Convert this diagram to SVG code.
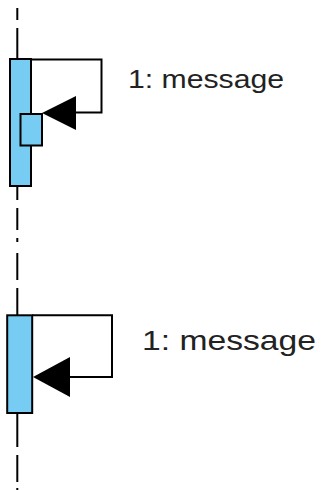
<svg xmlns="http://www.w3.org/2000/svg" width="321" height="490" viewBox="0 0 321 490">
<style>
.life{stroke:#000;stroke-width:2;fill:none}
.act{fill:#77CCF4;stroke:#000;stroke-width:2}
.msg{fill:none;stroke:#000;stroke-width:2}
.head{fill:#000;stroke:none}
.lbl{font-family:"Liberation Sans",Arial,sans-serif;fill:#222}
</style>
<g id="lifeline">
<path class="life" d="M17.3,8V20M17.3,28V50M17.3,50V59M17.3,186V200M17.3,208V230M17.3,238V242M17.3,253V280M17.3,288V315M17.3,413V423M17.3,423V447M17.3,455V482M17.3,488V490"/>
</g>
<g id="activation1">
<rect class="act" x="10" y="59" width="21" height="127"/>
<rect class="act" x="20.5" y="114" width="21.5" height="31.5"/>
</g>
<g id="activation2">
<rect class="act" x="7.2" y="315.3" width="25" height="97.7"/>
</g>
<g id="connectors">
<path class="msg" d="M31,59.5H101.5V112.5H70"/>
<polygon class="head" points="42,113 76,96 76,130"/>
<path class="msg" d="M32.2,315.3H112V377H65"/>
<polygon class="head" points="33,377 70,357 70,397"/>
</g>
<g id="label1">
<text class="lbl" x="128" y="88" font-size="26" textLength="156" lengthAdjust="spacingAndGlyphs">1: message</text>
</g>
<g id="label2">
<text class="lbl" x="142" y="350" font-size="28" textLength="174" lengthAdjust="spacingAndGlyphs">1: message</text>
</g>
</svg>
